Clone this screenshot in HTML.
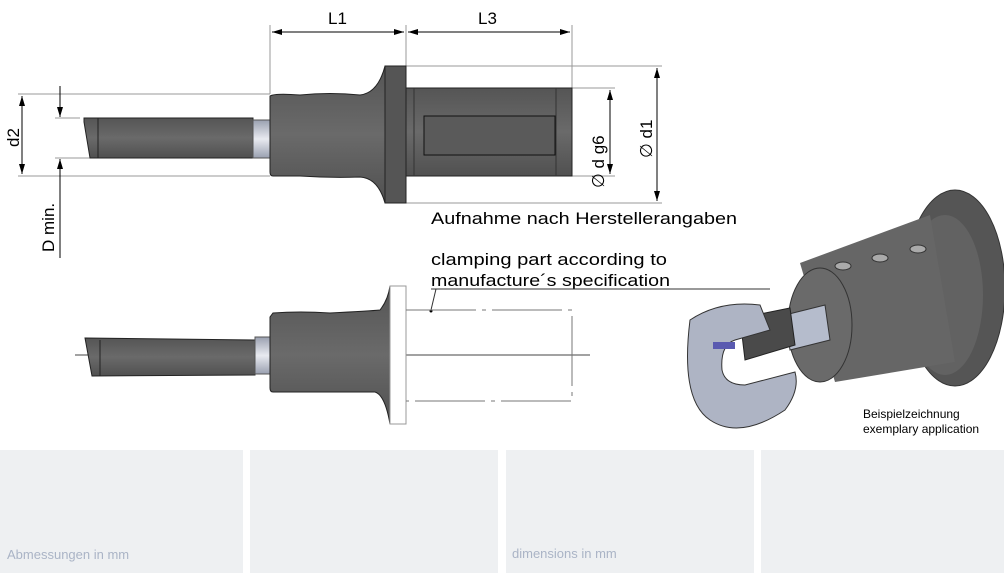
<!DOCTYPE html>
<html><head><meta charset="utf-8"><style>
html,body{margin:0;padding:0;background:#fff;width:1004px;height:573px;overflow:hidden;font-family:"Liberation Sans","DejaVu Sans",sans-serif}
.p{position:absolute;top:450px;height:123px;background:#eef0f2}
.t{position:absolute;font-size:13px;color:#aab4c6}
</style></head><body>
<div class="p" style="left:0;width:243px"></div>
<div class="p" style="left:250px;width:248px"></div>
<div class="p" style="left:506px;width:248px"></div>
<div class="p" style="left:761px;width:243px"></div>
<div class="t" style="left:7px;top:547px">Abmessungen in mm</div>
<div class="t" style="left:512px;top:546px">dimensions in mm</div>
<svg width="1004" height="450" style="position:absolute;left:0;top:0" font-family="Liberation Sans, DejaVu Sans, sans-serif">
<defs>
<marker id="a" markerWidth="10" markerHeight="6" refX="10" refY="3" orient="auto"><path d="M0,0L10,3L0,6z" fill="#000"/></marker>
<linearGradient id="g" x1="0" y1="0" x2="0" y2="1"><stop offset="0" stop-color="#555"/><stop offset=".5" stop-color="#6a6a6a"/><stop offset="1" stop-color="#505050"/></linearGradient>
<linearGradient id="c" x1="0" y1="0" x2="0" y2="1"><stop offset="0" stop-color="#9aa0b0"/><stop offset=".5" stop-color="#e8eaf0"/><stop offset="1" stop-color="#9aa0b0"/></linearGradient>
</defs>
<g stroke="#999" stroke-width="1" fill="none">
<line x1="270" y1="25" x2="270" y2="94"/><line x1="406" y1="25" x2="406" y2="66"/><line x1="572" y1="25" x2="572" y2="88"/>
<line x1="18" y1="94" x2="270" y2="94"/><line x1="18" y1="176" x2="270" y2="176"/>
<line x1="406" y1="66" x2="662" y2="66"/><line x1="406" y1="203" x2="662" y2="203"/>
<line x1="572" y1="88" x2="615" y2="88"/><line x1="572" y1="176" x2="615" y2="176"/>
<line x1="55" y1="118" x2="80" y2="118"/><line x1="55" y1="158" x2="90" y2="158"/>
</g>
<g stroke="#000" stroke-width="1">
<line x1="272" y1="32" x2="404" y2="32" marker-end="url(#a)"/><line x1="404" y1="32" x2="272" y2="32" marker-end="url(#a)"/>
<line x1="408" y1="32" x2="570" y2="32" marker-end="url(#a)"/><line x1="570" y1="32" x2="408" y2="32" marker-end="url(#a)"/>
<line x1="610" y1="90" x2="610" y2="174" marker-end="url(#a)"/><line x1="610" y1="174" x2="610" y2="90" marker-end="url(#a)"/>
<line x1="657" y1="68" x2="657" y2="201" marker-end="url(#a)"/><line x1="657" y1="201" x2="657" y2="68" marker-end="url(#a)"/>
<line x1="22" y1="96" x2="22" y2="174" marker-end="url(#a)"/><line x1="22" y1="174" x2="22" y2="96" marker-end="url(#a)"/>
<line x1="60" y1="86" x2="60" y2="117" marker-end="url(#a)"/><line x1="60" y1="258" x2="60" y2="159" marker-end="url(#a)"/>
</g>
<g font-size="17" fill="#000">
<text x="328" y="24">L1</text><text x="478" y="24">L3</text>
<text transform="translate(19,147) rotate(-90)">d2</text>
<text transform="translate(54,252) rotate(-90)">D min.</text>
<text transform="translate(604,188) rotate(-90)">∅ d g6</text>
<text transform="translate(652,158) rotate(-90)">∅ d1</text>
<text x="431" y="224" textLength="306" lengthAdjust="spacingAndGlyphs">Aufnahme nach Herstellerangaben</text>
<text x="431" y="265" textLength="236" lengthAdjust="spacingAndGlyphs">clamping part according to</text>
<text x="431" y="286" textLength="239" lengthAdjust="spacingAndGlyphs">manufacture´s specification</text>
</g>
<line x1="431" y1="289" x2="770" y2="289" stroke="#333"/>
<line x1="436" y1="289" x2="431" y2="310" stroke="#333"/><circle cx="431" cy="311" r="1.5"/>
<!-- top tool -->
<path d="M84,118 L253,118 L253,158 L90,158 L84,122z" fill="url(#g)" stroke="#222"/>
<line x1="98" y1="118" x2="98" y2="158" stroke="#222"/>
<rect x="253" y="120" width="17" height="38" fill="url(#c)" stroke="#555"/>
<path d="M270,96 Q275,93 300,95 Q330,92 360,95 Q378,93 385,66 L385,203 Q378,178 360,177 Q330,178 300,176 L273,176 Q270,176 270,172z" fill="url(#g)" stroke="#222"/>
<rect x="385" y="66" width="21" height="137" fill="#555" stroke="#222"/>
<rect x="406" y="88" width="166" height="88" fill="url(#g)" stroke="#222"/>
<line x1="414" y1="88" x2="414" y2="176" stroke="#333"/><line x1="556" y1="88" x2="556" y2="176" stroke="#333"/>
<rect x="424" y="116" width="131" height="39" fill="#5a5a5a" stroke="#111"/>
<!-- bottom tool -->
<line x1="75" y1="355" x2="590" y2="355" stroke="#444"/>
<path d="M85,338 L255,340 L255,375 L92,376 Z" fill="url(#g)" stroke="#222"/>
<line x1="100" y1="340" x2="100" y2="376" stroke="#222"/>
<rect x="255" y="337" width="15" height="37" fill="url(#c)" stroke="#555"/>
<path d="M273,313 Q300,311 330,313 Q370,311 380,310 Q388,300 390,286 L390,424 Q385,395 375,392 L273,392 Q270,392 270,388 L270,317z" fill="url(#g)" stroke="#222"/>
<rect x="390" y="286" width="16" height="138" fill="#fff" stroke="#999"/>
<path d="M406,310 H572 V401 H406" fill="none" stroke="#777" stroke-dasharray="70,6,4,6"/>
<!-- 3D -->
<ellipse cx="955" cy="288" rx="50" ry="98" fill="#555" stroke="#333"/>
<ellipse cx="945" cy="295" rx="38" ry="80" fill="#626262"/>
<path d="M800,263 L930,215 L955,362 L835,382 Z" fill="#666"/>
<ellipse cx="820" cy="325" rx="32" ry="57" fill="#6a6a6a" stroke="#333"/>
<ellipse cx="843" cy="266" rx="8" ry="4" fill="#aaa" stroke="#333"/><ellipse cx="880" cy="258" rx="8" ry="4" fill="#aaa" stroke="#333"/><ellipse cx="918" cy="249" rx="8" ry="4" fill="#aaa" stroke="#333"/>
<path d="M785,315 L825,305 L830,340 L790,350 Z" fill="#b5bccc" stroke="#333"/>
<path d="M740,318 L790,308 L795,345 L745,360 Z" fill="#4a4a4a" stroke="#222"/>
<path d="M690,320 Q720,300 760,305 L770,330 L735,340 Q720,345 722,370 Q725,385 745,385 L795,372 Q800,390 785,410 Q740,440 710,420 Q680,400 690,320z" fill="#aeb4c4" stroke="#333"/>
<rect x="713" y="342" width="22" height="7" fill="#5a5ab0"/>
<text x="863" y="418" font-size="12">Beispielzeichnung</text>
<text x="863" y="433" font-size="12">exemplary application</text>
</svg>
</body></html>
